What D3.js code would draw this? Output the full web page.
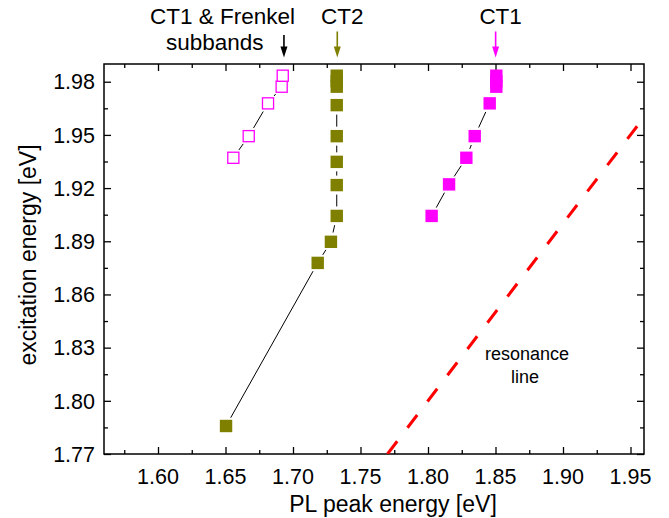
<!DOCTYPE html>
<html>
<head>
<meta charset="utf-8">
<script src="https://cdn.jsdelivr.net/npm/d3@7/dist/d3.min.js"></script>
<style>
  html, body { margin: 0; padding: 0; background: #fff; }
  svg { display: block; font-family: "Liberation Sans", Arial, Helvetica, sans-serif; }
</style>
</head>
<body>
<svg id="chart" width="669" height="518"></svg>
<script>
// ---- data ----
const ct2X = [1.6504, 1.7183, 1.7281, 1.7324, 1.7324, 1.7324, 1.7324, 1.7324, 1.7324, 1.7324, 1.7324];
const ct2Y = [1.7858, 1.8778, 1.8897, 1.9043, 1.9217, 1.9348, 1.9493, 1.9668, 1.9772, 1.9803, 1.9834];

const ct1X = [1.8027, 1.8156, 1.8284, 1.8346, 1.8457, 1.8506, 1.8506, 1.8506];
const ct1Y = [1.9043, 1.9221, 1.9371, 1.9493, 1.9678, 1.9772, 1.9803, 1.9834];

const subX = [1.6558, 1.6672, 1.6815, 1.6916, 1.6924];
const subY = [1.9371, 1.9493, 1.9678, 1.9772, 1.9834];

const resonanceX = [1.77, 1.958];
const resonanceY = [1.77, 1.958];

const xTicks = [1.60, 1.65, 1.70, 1.75, 1.80, 1.85, 1.90, 1.95];
const xMinor = [1.575, 1.625, 1.675, 1.725, 1.775, 1.825, 1.875, 1.925];
const yTicks = [1.77, 1.80, 1.83, 1.86, 1.89, 1.92, 1.95, 1.98];
const yMinor = [1.785, 1.815, 1.845, 1.875, 1.905, 1.935, 1.965];

const annotations = [
  { label: ["CT1 & Frenkel", "subbands"], arrowX: 1.6933, color: "#000000" },
  { label: ["CT2"], arrowX: 1.7328, color: "#808000" },
  { label: ["CT1"], arrowX: 1.8501, color: "#ff00ff" }
];

// ---- layout ----
const L = 104, R = 644, T = 64, B = 454;
const svg = d3.select("#chart");
const x = d3.scaleLinear().domain([1.56, 1.96]).range([L, R]);
const y = d3.scaleLinear().domain([1.77, 1.99]).range([B, T]);

const FONT = 21.5;
const ANN_FONT = 22.5;
const TITLE_FONT = 23;

// axes (ticks inward on all four sides)
const fmt = d3.format(".2f");
const gB = svg.append("g").attr("transform", `translate(0,${B})`)
  .call(d3.axisTop(x).tickValues(xTicks).tickSize(7).tickFormat(""));
const gBm = svg.append("g").attr("transform", `translate(0,${B})`)
  .call(d3.axisTop(x).tickValues(xMinor).tickSize(4).tickFormat(""));
const gT = svg.append("g").attr("transform", `translate(0,${T})`)
  .call(d3.axisBottom(x).tickValues(xTicks).tickSize(7).tickFormat(""));
const gTm = svg.append("g").attr("transform", `translate(0,${T})`)
  .call(d3.axisBottom(x).tickValues(xMinor).tickSize(4).tickFormat(""));
const gL = svg.append("g").attr("transform", `translate(${L},0)`)
  .call(d3.axisRight(y).tickValues(yTicks).tickSize(7).tickFormat(""));
const gLm = svg.append("g").attr("transform", `translate(${L},0)`)
  .call(d3.axisRight(y).tickValues(yMinor).tickSize(4).tickFormat(""));
const gR = svg.append("g").attr("transform", `translate(${R},0)`)
  .call(d3.axisLeft(y).tickValues(yTicks).tickSize(7).tickFormat(""));
const gRm = svg.append("g").attr("transform", `translate(${R},0)`)
  .call(d3.axisLeft(y).tickValues(yMinor).tickSize(4).tickFormat(""));
[gB, gBm, gT, gTm, gL, gLm, gR, gRm].forEach(g => {
  g.select(".domain").remove();
  g.selectAll(".tick line").attr("stroke", "#000").attr("stroke-width", 1.3);
});

// frame
svg.append("rect").attr("x", L).attr("y", T).attr("width", R - L).attr("height", B - T)
  .attr("fill", "none").attr("stroke", "#000").attr("stroke-width", 1.5);

// tick labels
svg.append("g").selectAll("text").data(xTicks).join("text")
  .attr("x", d => x(d)).attr("y", B + 30)
  .attr("text-anchor", "middle").attr("font-size", FONT).attr("fill", "#000")
  .text(d => fmt(d));
svg.append("g").selectAll("text").data(yTicks).join("text")
  .attr("x", L - 9).attr("y", d => y(d) + 7.7)
  .attr("text-anchor", "end").attr("font-size", FONT).attr("fill", "#000")
  .text(d => fmt(d));

// axis titles
svg.append("text").attr("x", 393).attr("y", 512).attr("text-anchor", "middle")
  .attr("font-size", TITLE_FONT).text("PL peak energy [eV]");
svg.append("text").attr("transform", `translate(36,${(T + B) / 2 - 4}) rotate(-90)`)
  .attr("text-anchor", "middle").attr("font-size", TITLE_FONT).text("excitation energy [eV]");

// clip
svg.append("clipPath").attr("id", "clip").append("rect")
  .attr("x", L).attr("y", T).attr("width", R - L).attr("height", B - T);
const plot = svg.append("g").attr("clip-path", "url(#clip)");

// resonance line
const resPts = resonanceX.map((d, i) => [d, resonanceY[i]]);
plot.append("path").datum(resPts)
  .attr("d", d3.line().x(d => x(d[0])).y(d => y(d[1])))
  .attr("fill", "none").attr("stroke", "#ff0000").attr("stroke-width", 3)
  .attr("stroke-dasharray", "16,17");

svg.append("text").attr("x", 527).attr("y", 360).attr("text-anchor", "middle")
  .attr("font-size", 18).text("resonance");
svg.append("text").attr("x", 525).attr("y", 383).attr("text-anchor", "middle")
  .attr("font-size", 18).text("line");

// connecting lines with gaps at markers
function gapSegments(xs, ys, gap) {
  const segs = [];
  for (let i = 0; i < xs.length - 1; i++) {
    const x1 = x(xs[i]), y1 = y(ys[i]), x2 = x(xs[i + 1]), y2 = y(ys[i + 1]);
    const len = Math.hypot(x2 - x1, y2 - y1);
    if (len <= 2 * gap + 1) continue;
    const ux = (x2 - x1) / len, uy = (y2 - y1) / len;
    segs.push([x1 + ux * gap, y1 + uy * gap, x2 - ux * gap, y2 - uy * gap]);
  }
  return segs;
}
function drawConnect(xs, ys) {
  plot.append("g").selectAll("line").data(gapSegments(xs, ys, 9.5)).join("line")
    .attr("x1", d => d[0]).attr("y1", d => d[1]).attr("x2", d => d[2]).attr("y2", d => d[3])
    .attr("stroke", "#000").attr("stroke-width", 1);
}
drawConnect(ct2X, ct2Y);
drawConnect(ct1X, ct1Y);
drawConnect(subX, subY);

// markers
const S = 12.4;
function drawSquares(xs, ys, fill, stroke, sw, size) {
  plot.append("g").selectAll("rect").data(xs.map((d, i) => [d, ys[i]])).join("rect")
    .attr("x", d => x(d[0]) - size / 2).attr("y", d => y(d[1]) - size / 2)
    .attr("width", size).attr("height", size)
    .attr("fill", fill).attr("stroke", stroke).attr("stroke-width", sw);
}
drawSquares(ct2X, ct2Y, "#808000", "none", 0, S);
drawSquares(ct1X, ct1Y, "#ff00ff", "none", 0, S);
drawSquares(subX, subY, "#ffffff", "#ff00ff", 1.3, S - 1.3);

// top annotations with arrows
const ann = svg.append("g");
annotations.forEach(a => {
  const ax = x(a.arrowX);
  if (a.label.length === 2) {
    ann.append("text").attr("x", 222.5).attr("y", 24).attr("text-anchor", "middle")
      .attr("font-size", ANN_FONT).text(a.label[0]);
    ann.append("text").attr("x", 214.7).attr("y", 49.5).attr("text-anchor", "middle")
      .attr("font-size", ANN_FONT).text(a.label[1]);
  } else {
    ann.append("text").attr("x", ax + 5).attr("y", 24).attr("text-anchor", "middle")
      .attr("font-size", ANN_FONT).text(a.label[0]);
  }
  const top = a.label.length === 2 ? 35 : 31.5;
  const tip = 57.5;
  ann.append("line").attr("x1", ax).attr("x2", ax).attr("y1", top).attr("y2", tip - 8)
    .attr("stroke", a.color).attr("stroke-width", 1.6);
  ann.append("path")
    .attr("d", `M${ax - 3.5},${tip - 11} L${ax + 3.5},${tip - 11} L${ax},${tip} Z`)
    .attr("fill", a.color);
});
</script>
</body>
</html>
